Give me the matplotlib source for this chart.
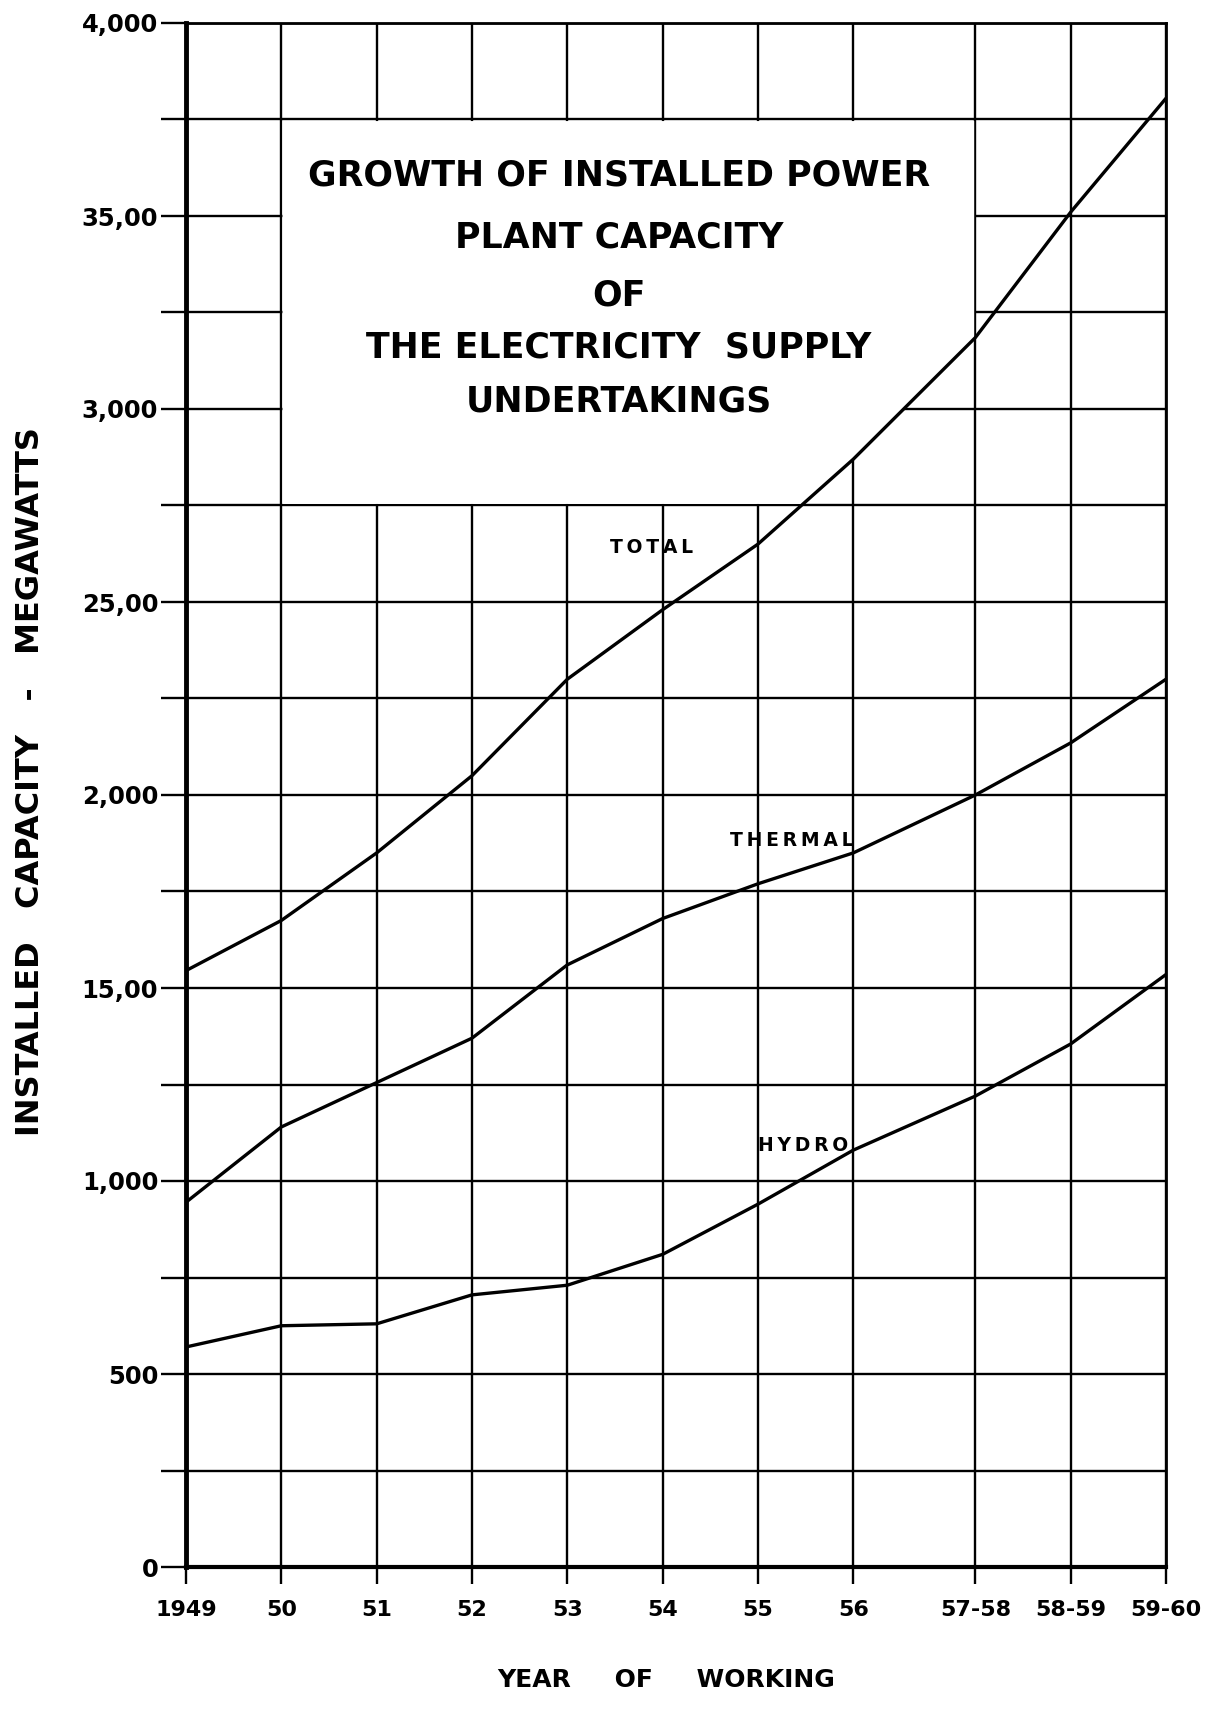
import numpy as np
import matplotlib
matplotlib.use("Agg")
import matplotlib.pyplot as plt
from matplotlib.patches import Polygon
from matplotlib.ticker import FixedLocator, MultipleLocator

# ---------------- data ----------------
years = ["1949", "50", "51", "52", "53", "54", "55", "56", "57-58", "58-59", "59-60"]
x_positions = [0, 1, 2, 3, 4, 5, 6, 7, 8.28, 9.28, 10.28]
total = [1545, 1675, 1850, 2050, 2300, 2480, 2650, 2870, 3185, 3510, 3805]
thermal = [945, 1140, 1255, 1370, 1560, 1680, 1770, 1850, 2000, 2135, 2300]
hydro = [570, 625, 630, 705, 730, 810, 940, 1080, 1220, 1355, 1535]
y_tick_values = [0, 500, 1000, 1500, 2000, 2500, 3000, 3500, 4000]
y_tick_labels = ["0", "500", "1,000", "15,00", "2,000", "25,00", "3,000", "35,00", "4,000"]
title_lines = ["GROWTH OF INSTALLED POWER", "PLANT CAPACITY", "OF",
               "THE ELECTRICITY  SUPPLY", "UNDERTAKINGS"]
series_labels = ["TOTAL", "THERMAL", "HYDRO"]

plt.rcParams['font.family'] = ['DejaVu Sans']

fig = plt.figure(figsize=(12.29, 17.26), dpi=100)
ax = fig.add_axes([186/1229, 1-1567/1726, 980/1229, 1544/1726])

ax.set_xlim(x_positions[0], x_positions[-1])
ax.set_ylim(0, 4000)

# grid
ax.xaxis.set_major_locator(FixedLocator(x_positions))
ax.yaxis.set_major_locator(FixedLocator(y_tick_values))
ax.yaxis.set_minor_locator(MultipleLocator(250))
ax.grid(True, which='major', axis='x', color='black', lw=1.7)
ax.grid(True, which='both', axis='y', color='black', lw=1.7)
ax.set_axisbelow(True)

# blank title region (grid erased above/left of the total curve)
x_cross = float(np.interp(2750, total[6:8], x_positions[6:8]))
dx, dy = 0.012, 4
poly = [(1 + dx, 2750 + dy), (1 + dx, 3750 - dy), (x_positions[8] - dx, 3750 - dy),
        (x_positions[8] - dx, total[8]), (x_positions[7], total[7]), (x_cross, 2750 + dy)]
ax.add_patch(Polygon(poly, closed=True, facecolor='white', edgecolor='none', zorder=1))

# curves
for series in (total, thermal, hydro):
    ax.plot(x_positions, series, color='black', lw=2.4, zorder=3,
            solid_joinstyle='round', solid_capstyle='round')

# curve labels (letter-spaced with thin spaces)
label_pos = [(4.88, 2642), (6.35, 1883), (6.47, 1093)]
for name, (lx, ly) in zip(series_labels, label_pos):
    ax.text(lx, ly, "\u2009".join(name), fontsize=13.5, fontweight='heavy',
            ha='center', va='center', zorder=4)

# title
title_y = [176, 237, 295, 347, 402]
for line, py in zip(title_lines, title_y):
    ax.text(0.442, (1567-py)/1544, line, transform=ax.transAxes, fontsize=25,
            fontweight='bold', ha='center', va='center', zorder=4)

# spines
for s in ['top', 'right']:
    ax.spines[s].set_linewidth(2.0)
ax.spines['left'].set_linewidth(3.5)
ax.spines['bottom'].set_linewidth(3.0)

# ticks
ax.set_xticklabels(years)
ax.set_yticklabels(y_tick_labels)
ax.tick_params(axis='x', which='major', length=12, width=1.7, pad=12, labelsize=16)
ax.tick_params(axis='y', which='both', length=18, width=1.7, pad=2, labelsize=17.5)
for lab in ax.get_xticklabels() + ax.get_yticklabels():
    lab.set_fontweight('bold')

fig.text(31/1229, 1-782/1726, "INSTALLED   CAPACITY   -   MEGAWATTS", rotation=90,
         ha='center', va='center', fontsize=23, fontweight='bold')
fig.text(666/1229, 1-1680/1726, "YEAR     OF     WORKING", ha='center', va='center',
         fontsize=18, fontweight='bold')

fig.savefig("out.png", dpi=100, facecolor='white')
